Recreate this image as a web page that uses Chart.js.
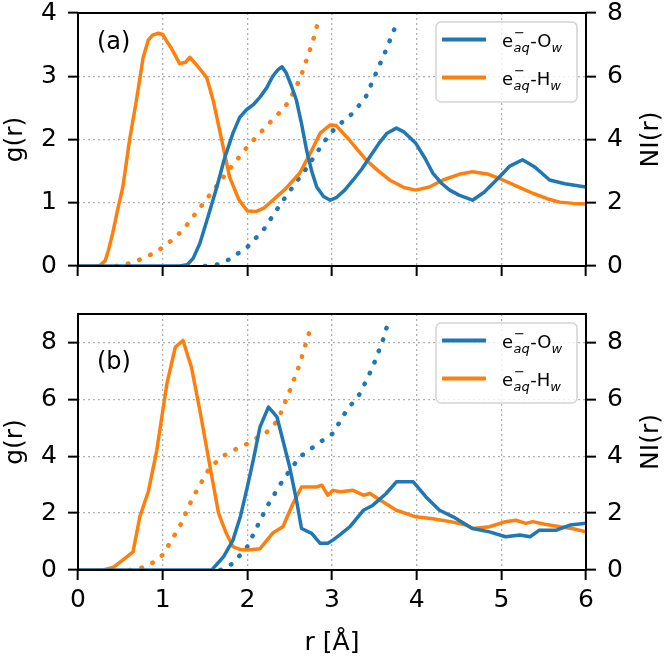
<!DOCTYPE html>
<html>
<head>
<meta charset="utf-8">
<title>g(r) and N(r)</title>
<script src="https://cdn.jsdelivr.net/npm/chart.js@4.4.0/dist/chart.umd.min.js"></script>
<style>
  html, body { margin: 0; padding: 0; background: #fff; }
  #wrap { position: relative; width: 666px; height: 663px; }
  #wrap canvas { position: absolute; left: 0; }
  #chartA { top: 0; }
  #chartB { top: 300px; }
</style>
</head>
<body>
<div id="wrap">
  <canvas id="chartA" width="666" height="300"></canvas>
  <canvas id="chartB" width="666" height="363"></canvas>
</div>
<script>
// ---- data ----
// panel (a): g(r) of e-aq - O_w (blue) and e-aq - H_w (orange)
const rA_O = [0, 1.2, 1.29, 1.36, 1.44, 1.54, 1.64, 1.73, 1.83, 1.91, 1.99, 2.07, 2.15, 2.23, 2.3, 2.36, 2.41, 2.46, 2.52, 2.58, 2.64, 2.7, 2.76, 2.82, 2.9, 2.98, 3.05, 3.15, 3.25, 3.35, 3.45, 3.55, 3.65, 3.76, 3.85, 3.99, 4.1, 4.19, 4.3, 4.39, 4.5, 4.66, 4.8, 4.98, 5.1, 5.25, 5.4, 5.57, 5.75, 6.0];
const gA_O = [0, 0, 0.02, 0.12, 0.36, 0.8, 1.25, 1.7, 2.1, 2.35, 2.47, 2.55, 2.67, 2.82, 3.0, 3.1, 3.15, 3.05, 2.85, 2.62, 2.25, 1.83, 1.5, 1.25, 1.1, 1.04, 1.08, 1.2, 1.36, 1.53, 1.73, 1.93, 2.1, 2.18, 2.12, 1.94, 1.7, 1.47, 1.3, 1.2, 1.12, 1.04, 1.17, 1.41, 1.58, 1.68, 1.56, 1.36, 1.3, 1.25];
const rA_H = [0, 0.2, 0.26, 0.32, 0.36, 0.41, 0.47, 0.53, 0.61, 0.69, 0.77, 0.83, 0.88, 0.95, 1.0, 1.05, 1.1, 1.2, 1.27, 1.32, 1.4, 1.52, 1.6, 1.68, 1.79, 1.9, 2.0, 2.1, 2.2, 2.3, 2.45, 2.62, 2.75, 2.86, 2.98, 3.05, 3.2, 3.4, 3.55, 3.68, 3.85, 3.99, 4.15, 4.31, 4.5, 4.66, 4.85, 5.02, 5.2, 5.37, 5.55, 5.69, 5.85, 6.0];
const gA_H = [0, 0, 0.01, 0.08, 0.25, 0.52, 0.9, 1.25, 2.0, 2.62, 3.3, 3.57, 3.65, 3.68, 3.66, 3.55, 3.45, 3.2, 3.22, 3.3, 3.18, 2.98, 2.6, 2.1, 1.41, 1.05, 0.87, 0.86, 0.92, 1.04, 1.22, 1.47, 1.8, 2.1, 2.23, 2.22, 2.0, 1.68, 1.5, 1.36, 1.24, 1.2, 1.25, 1.36, 1.45, 1.49, 1.45, 1.36, 1.25, 1.15, 1.06, 1.01, 0.99, 0.98];
// panel (a): running coordination number N(r), dotted
const rA_NO = [1.5, 1.65, 1.78, 1.89, 2.0, 2.19, 2.41, 2.55, 2.7, 2.85, 2.98, 3.12, 3.25, 3.4, 3.52, 3.64, 3.78];
const nA_O = [0, 0.05, 0.2, 0.4, 0.6, 1.14, 2.03, 2.55, 3.1, 3.7, 4.2, 4.55, 4.84, 5.35, 6.1, 6.84, 7.78];
const rA_NH = [0.45, 0.6, 0.75, 0.93, 1.1, 1.24, 1.4, 1.6, 1.8, 2.0, 2.2, 2.38, 2.44, 2.51, 2.57, 2.63, 2.67, 2.72, 2.76, 2.8, 2.83];
const nA_H = [0, 0.08, 0.22, 0.45, 0.8, 1.14, 1.7, 2.4, 3.1, 3.77, 4.35, 4.85, 5.01, 5.3, 5.64, 5.96, 6.31, 6.66, 7.01, 7.34, 7.69];

// panel (b)
const rB_O = [0, 1.58, 1.72, 1.83, 1.92, 2.0, 2.07, 2.15, 2.25, 2.35, 2.42, 2.5, 2.58, 2.64, 2.76, 2.86, 2.95, 3.01, 3.1, 3.21, 3.37, 3.48, 3.64, 3.76, 3.96, 4.11, 4.27, 4.43, 4.66, 4.86, 5.05, 5.22, 5.34, 5.45, 5.65, 5.81, 6.0];
const gB_O = [0, 0, 0.47, 1.05, 1.9, 2.92, 3.86, 5.03, 5.73, 5.38, 4.56, 3.62, 2.46, 1.46, 1.29, 0.94, 0.94, 1.05, 1.25, 1.52, 2.1, 2.27, 2.69, 3.1, 3.1, 2.57, 2.1, 1.87, 1.46, 1.34, 1.17, 1.23, 1.17, 1.4, 1.4, 1.58, 1.64];
const rB_H = [0, 0.3, 0.42, 0.55, 0.65, 0.73, 0.83, 0.93, 1.05, 1.15, 1.24, 1.34, 1.44, 1.56, 1.66, 1.75, 1.83, 1.92, 2.0, 2.15, 2.3, 2.42, 2.54, 2.64, 2.73, 2.82, 2.88, 2.95, 3.01, 3.1, 3.25, 3.37, 3.45, 3.6, 3.76, 3.99, 4.19, 4.4, 4.58, 4.66, 4.86, 5.05, 5.17, 5.29, 5.37, 5.5, 5.69, 5.85, 6.0];
const gB_H = [0, 0, 0.1, 0.4, 0.64, 1.87, 2.75, 4.2, 6.55, 7.84, 8.07, 7.13, 5.6, 3.62, 2.0, 1.3, 0.82, 0.72, 0.7, 0.75, 1.3, 1.52, 2.34, 2.92, 2.92, 2.92, 2.98, 2.63, 2.8, 2.75, 2.8, 2.63, 2.69, 2.4, 2.1, 1.87, 1.8, 1.7, 1.58, 1.46, 1.52, 1.7, 1.75, 1.64, 1.7, 1.62, 1.52, 1.45, 1.34];
const rB_NO = [1.68, 1.83, 2.0, 2.23, 2.42, 2.62, 2.86, 3.01, 3.17, 3.33, 3.48, 3.6, 3.67];
const nB_O = [0, 0.23, 0.82, 2.22, 3.16, 3.98, 4.5, 4.8, 5.6, 6.2, 7.13, 8.07, 8.77];
const rB_NH = [0.61, 0.75, 0.87, 1.0, 1.2, 1.36, 1.56, 1.76, 2.0, 2.23, 2.36, 2.5, 2.62, 2.76];
const nB_H = [0, 0.08, 0.23, 0.53, 1.52, 2.57, 3.62, 4.1, 4.44, 4.85, 5.26, 6.3, 7.25, 8.65];

const xTicks = [0, 1, 2, 3, 4, 5, 6];
const legendSpecies = ['O', 'H'];

const BLUE = '#1f77b4';
const ORANGE = '#ff7f0e';
const FONT = '"DejaVu Sans", sans-serif';
const FS = 25;

Chart.defaults.font.family = FONT;
Chart.defaults.color = '#000';

function toXY(xs, ys) {
  return xs.map((x, i) => ({ x: x, y: ys[i] }));
}

// e^-_aq - X_w label, drawn with mathtext-like sub/superscripts
function drawSpeciesLabel(ctx, x, yMid, atom) {
  const base = yMid + 7;
  ctx.fillStyle = '#000';
  ctx.textAlign = 'left';
  ctx.textBaseline = 'alphabetic';
  ctx.font = '18px ' + FONT;
  ctx.fillText('e', x, base);
  let cx = x + ctx.measureText('e').width;
  ctx.font = '13px ' + FONT;
  ctx.fillText('\u2212', cx + 1, base - 10);
  ctx.font = 'italic 13px ' + FONT;
  ctx.fillText('aq', cx + 0.5, base + 5);
  cx += ctx.measureText('aq').width + 1;
  ctx.font = '18px ' + FONT;
  ctx.fillText('-' + atom, cx, base);
  cx += ctx.measureText('-' + atom).width;
  ctx.font = 'italic 13px ' + FONT;
  ctx.fillText('w', cx, base + 5);
}

// box round the axes, panel letter, right axis title and legend
const panelDecor = {
  id: 'panelDecor',
  afterDraw(chart, args, opts) {
    const ctx = chart.ctx;
    const a = chart.chartArea;
    ctx.save();

    // legend
    const w = 141, h = 80;
    const lx = a.right - 9 - w, ly = a.top + 9;
    ctx.beginPath();
    ctx.roundRect(lx, ly, w, h, 5);
    ctx.fillStyle = 'rgba(255,255,255,0.8)';
    ctx.fill();
    ctx.strokeStyle = '#d4d4d4';
    ctx.lineWidth = 1.5;
    ctx.stroke();
    [BLUE, ORANGE].forEach((col, i) => {
      const yy = ly + 17.5 + i * 38;
      ctx.beginPath();
      ctx.moveTo(lx + 6, yy);
      ctx.lineTo(lx + 50, yy);
      ctx.strokeStyle = col;
      ctx.lineWidth = 4;
      ctx.stroke();
      drawSpeciesLabel(ctx, lx + 66, yy, legendSpecies[i]);
    });

    // frame
    ctx.strokeStyle = '#000';
    ctx.lineWidth = 2;
    ctx.strokeRect(a.left, a.top, a.right - a.left, a.bottom - a.top);

    // panel letter
    ctx.fillStyle = '#000';
    ctx.font = '24px ' + FONT;
    ctx.textAlign = 'left';
    ctx.textBaseline = 'middle';
    ctx.fillText(opts.letter, a.left + 19, a.top + opts.letterY);

    // right axis title, reads bottom to top like the left one
    ctx.font = FS + 'px ' + FONT;
    ctx.translate(651, (a.top + a.bottom) / 2);
    ctx.rotate(-Math.PI / 2);
    ctx.textAlign = 'center';
    ctx.fillText('NI(r)', 0, 0);
    ctx.restore();
  }
};

function lineSet(xs, ys, color, axis, dotted) {
  return {
    data: toXY(xs, ys),
    borderColor: color,
    backgroundColor: color,
    yAxisID: axis,
    borderWidth: dotted ? 4.5 : 3.5,
    borderDash: dotted ? [0.5, 11.5] : [],
    borderCapStyle: dotted ? 'round' : 'butt',
    borderJoinStyle: 'round',
    pointRadius: 0,
    tension: 0,
    fill: false
  };
}

// fixed axis sizes so the plot box lands where it is in the figure
function fixWidth(wd) {
  return s => { s.width = wd; s.paddingTop = 0; s.paddingBottom = 0; };
}

function makePanel(id, p) {
  const tickFont = { size: FS, family: FONT };
  const gridOpts = { color: '#b0b0b0', lineWidth: 1.3, tickColor: '#000', tickLength: 10, tickWidth: 2, tickBorderDash: [] };
  return new Chart(document.getElementById(id), {
    type: 'line',
    data: {
      datasets: [
        lineSet(p.rO, p.gO, BLUE, 'y', false),
        lineSet(p.rH, p.gH, ORANGE, 'y', false),
        lineSet(p.rNO, p.nO, BLUE, 'y2', true),
        lineSet(p.rNH, p.nH, ORANGE, 'y2', true)
      ]
    },
    options: {
      responsive: false,
      animation: false,
      events: [],
      layout: { padding: { top: p.padTop, left: 0, right: 0, bottom: 0 } },
      plugins: {
        legend: { display: false },
        tooltip: { enabled: false },
        panelDecor: { letter: p.letter, letterY: p.letterY }
      },
      scales: {
        x: {
          type: 'linear',
          min: 0, max: 6,
          afterBuildTicks: s => { s.ticks = xTicks.map(v => ({ value: v })); },
          afterFit: s => { s.height = p.xHeight; s.paddingLeft = 0; s.paddingRight = 0; },
          ticks: { display: p.showX, font: tickFont, padding: 5, maxRotation: 0 },
          grid: gridOpts,
          border: { display: false, dash: [2, 3] },
          title: { display: p.showX, text: 'r [Å]', font: { size: FS, family: FONT }, padding: { top: 0, bottom: 5 } }
        },
        y: {
          position: 'left',
          min: 0, max: p.gMax,
          afterFit: fixWidth(78),
          ticks: { stepSize: p.gStep, includeBounds: false, font: tickFont, padding: 11 },
          grid: gridOpts,
          border: { display: false, dash: [2, 3] },
          title: { display: true, text: 'g(r)', font: { size: FS, family: FONT }, padding: { top: 0, bottom: 0 } }
        },
        y2: {
          position: 'right',
          min: 0, max: p.nMax,
          afterFit: fixWidth(80),
          ticks: { stepSize: 2, includeBounds: false, font: tickFont, padding: 11 },
          grid: Object.assign({}, gridOpts, { drawOnChartArea: false }),
          border: { display: false }
        }
      }
    },
    plugins: [panelDecor]
  });
}

makePanel('chartA', {
  rO: rA_O, gO: gA_O, rH: rA_H, gH: gA_H,
  rNO: rA_NO, nO: nA_O, rNH: rA_NH, nH: nA_H,
  padTop: 13, xHeight: 34, showX: false,
  gMax: 4, gStep: 1, nMax: 8,
  letter: '(a)', letterY: 30
});

makePanel('chartB', {
  rO: rB_O, gO: gB_O, rH: rB_H, gH: gB_H,
  rNO: rB_NO, nO: nB_O, rNH: rB_NH, nH: nB_H,
  padTop: 14, xHeight: 93, showX: true,
  gMax: 9, gStep: 2, nMax: 9,
  letter: '(b)', letterY: 49
});
</script>
</body>
</html>
